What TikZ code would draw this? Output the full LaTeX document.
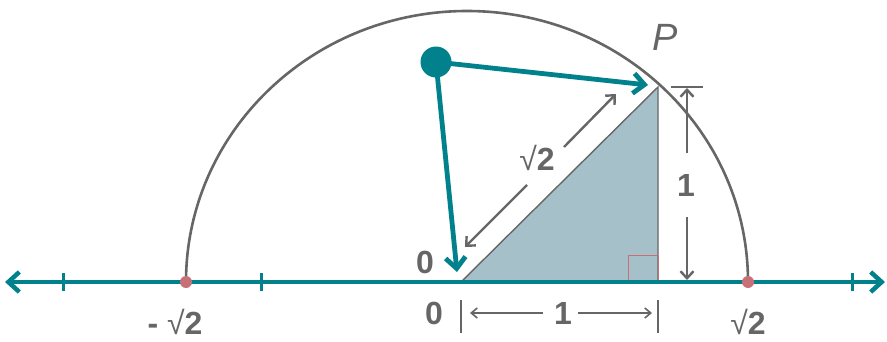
\documentclass[tikz,border=0pt]{standalone}
\usepackage{fontspec}
\setmainfont{Liberation Sans}
\usetikzlibrary{positioning,calc}
\usetikzlibrary{arrows.meta}
\definecolor{LineTeal}{RGB}{0,129,140}
\definecolor{DimGray}{RGB}{102,102,102}
\definecolor{TriFill}{RGB}{165,192,200}
\definecolor{DotPink}{RGB}{200,112,120}
\tikzset{
	numline/.style={draw=LineTeal,line width=4.5pt,
		{Straight Barb[length=11pt,width=20pt]}-{Straight Barb[length=11pt,width=20pt]}},
	tick/.style={draw=LineTeal,line width=3pt},
	pdot/.style={circle,fill=DotPink,inner sep=0pt,minimum size=12pt},
	halfcirc/.style={draw=DimGray,line width=2.6pt},
	tri/.style={draw=DimGray,fill=TriFill,line width=1.4pt},
	pointer/.style={draw=LineTeal,line width=4.8pt,-{Straight Barb[length=11pt,width=20pt]}},
	dimarrow/.style={draw=DimGray,line width=2.4pt,-{Straight Barb[length=7pt,width=13pt]}},
	dimthin/.style={draw=DimGray,line width=1.6pt,-{Straight Barb[length=6pt,width=10pt]}},
	lbl/.style={text=DimGray,font=\fontsize{32}{34}\selectfont\bfseries,inner sep=0pt},
}

\begin{document}
\begin{tikzpicture}[x=1pt,y=1pt]
			\useasboundingbox (0,0) rectangle (887,341);
			% points of the number line
			\coordinate (lend) at (5,59);
			\coordinate (rend) at (885,59);
			\coordinate (o) at (461,59);
			\coordinate (one) at (658,59);
			\coordinate (p) at (658,254);
			% half circle through P
			\draw[halfcirc] (748,59) arc[start angle=0,end angle=180,x radius=281,y radius=271];
			% triangle and right angle
			\draw[tri] (o)--(p)--(one)--cycle;
			\draw[DotPink,line width=1pt] (628,59) rectangle (658,86);
			% number line
			\draw[numline] (lend)--(rend);
			\foreach \tx in {63,261,852}
				\draw[tick] (\tx,50)--(\tx,68);
			\node[pdot] (msq) at (186,59) {};
			\node[pdot] (psq) at (748,59) {};
			% pointer
			\node[circle,fill=LineTeal,inner sep=0pt,minimum size=31pt] (hub) at (436,279) {};
			\coordinate (ptip) at (648,256);
			\coordinate (otip) at (457,69);
			\draw[pointer] (hub.center)--(ptip);
			\draw[pointer] (hub.center)--(otip);
			% length of the hypotenuse
			\coordinate (hlo) at (465,94);
			\coordinate (hhi) at (616,247);
			\coordinate (hla) at (527,156);
			\coordinate (hha) at (564,194);
			\draw[dimarrow] (hla)--(hlo);
			\draw[dimarrow] (hha)--(hhi);
			\node[lbl] (hyp) at (537,183) {{\mdseries √}2};
			% height
			\node[lbl] (vone) at (686,156) {1};
			\coordinate (vtop) at (687,253);
			\coordinate (vbot) at (687,61);
			\draw[DimGray,line width=1.6pt] (671,254)--(703,254);
			\draw[dimarrow] (687,188)--(vtop);
			\draw[dimarrow] (687,124)--(vbot);
			% base
			\node[lbl] (bone) at (563,28) {1};
			\coordinate (bl) at (470,28);
			\coordinate (br) at (652,28);
			\draw[DimGray,line width=1.6pt] (461,41)--(461,8);
			\draw[DimGray,line width=1.6pt] (658,41)--(658,8);
			\draw[dimthin] (543,28)--(bl);
			\draw[dimthin] (578,28)--(br);
			% labels
			\node[lbl] (zb) at (434,28) {0};
			\node[lbl] (zt) at (425,79) {0};
			\node[lbl] (ml) at (175,19) {- {\mdseries √}2};
			\node[lbl] (pl) at (748,19) {{\mdseries √}2};
			\node[text=DimGray,font=\fontsize{38}{40}\selectfont\itshape,inner sep=0pt] (pname) at (665,304) {P};
		\end{tikzpicture}
\end{document}
